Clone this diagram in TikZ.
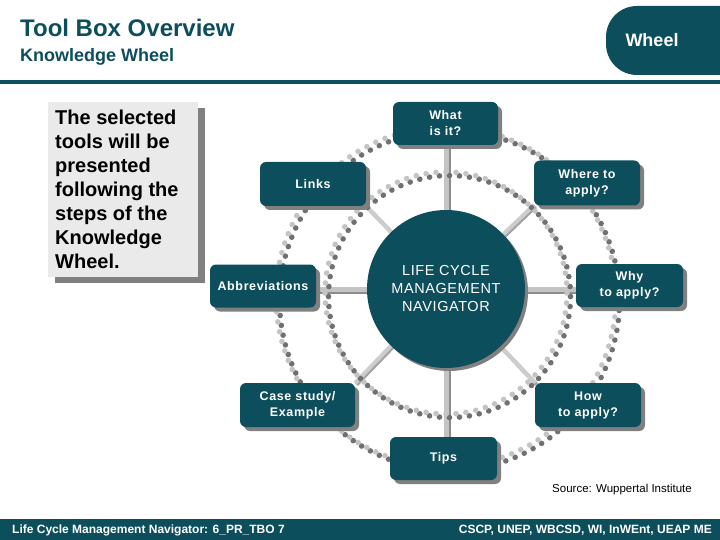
\documentclass[tikz,border=0pt]{standalone}
\usepackage{fontspec}
\setmainfont{Liberation Sans}
\usetikzlibrary{calc,shadows}
\definecolor{tealk}{RGB}{12,78,92}
\definecolor{shgray}{RGB}{128,128,128}
\definecolor{dotlt}{RGB}{196,196,196}
\definecolor{dotdk}{RGB}{112,112,112}
\definecolor{spklt}{RGB}{196,196,196}
\definecolor{spkdk}{RGB}{140,140,140}
\definecolor{boxgray}{RGB}{234,234,234}
\tikzset{
  wbox/.style={fill=tealk, rounded corners=6pt, text=white, align=center,
    inner sep=0pt, font=\bfseries\fontsize{12.5}{16}\selectfont\addfontfeature{LetterSpace=5},
    drop shadow={shadow xshift=4pt, shadow yshift=-4pt, fill=shgray, opacity=1}},
  spokedk/.style={draw=spkdk, line width=5pt},
  spokelt/.style={draw=spklt, line width=5pt},
  diagdk/.style={draw=spkdk!80, line width=4pt},
  diaglt/.style={draw=spklt!85, line width=4pt},
}
\begin{document}
\begin{tikzpicture}[x=1pt,y=-1pt]
\useasboundingbox (0,0) rectangle (720,540);
% header
\node[anchor=base west, text=tealk, font=\bfseries\fontsize{24}{28}\selectfont, inner sep=0pt] (title) at (20,37) {Tool Box Overview};
\node[anchor=base west, text=tealk, font=\bfseries\fontsize{18}{22}\selectfont, inner sep=0pt] (subtitle) at (20,62) {Knowledge Wheel};
\begin{scope}
  \clip (0,0) rectangle (720,540);
  \fill[tealk, rounded corners=31pt] (606,6) rectangle (790,75);
\end{scope}
\node[anchor=base, text=white, font=\bfseries\fontsize{18}{22}\selectfont, inner sep=0pt] (wheeltab) at (652,47) {Wheel};
\fill[tealk] (0,80) rectangle (720,84);
% left text box
\fill[shgray] (55,108) rectangle (205,283);
\fill[boxgray] (48,102) rectangle (198,277);
\node[anchor=north west, align=left, inner sep=0pt, font=\bfseries\fontsize{20}{24}\selectfont] (intro) at (55,109.5)
  {The selected\\tools will be\\presented\\following the\\steps of the\\Knowledge\\Wheel.};
% centre coordinate
\coordinate (c) at (446,289);
\coordinate (ic) at (446,293);
\coordinate (oc) at (446,297);
% box positions
\coordinate (pwhat) at (445.5,123.5);
\coordinate (plinks) at (313,184);
\coordinate (pwhere) at (587,183);
\coordinate (pabbr) at (263,286);
\coordinate (pwhy) at (629.5,285.5);
\coordinate (pcase) at (297.5,405);
\coordinate (phow) at (588,405);
\coordinate (ptips) at (443.5,458.5);
% spokes
\draw[spokedk] ($(c)+(2.5,0)$) -- ($(c |- pwhat)+(2.5,0)$);
\draw[spokelt] (c) -- (c |- pwhat);
\draw[spokedk] ($(c)+(2.5,0)$) -- ($(c |- ptips)+(2.5,0)$);
\draw[spokelt] (c) -- (c |- ptips);
\draw[spokedk] ($(c)+(0,2.5)$) -- ($(c -| pabbr)+(0,2.5)$);
\draw[spokelt] (c) -- (c -| pabbr);
\draw[spokedk] ($(c)+(0,2.5)$) -- ($(c -| pwhy)+(0,2.5)$);
\draw[spokelt] (c) -- (c -| pwhy);
\draw[diagdk] ($(c)+(1.5,1.5)$) -- ($(366,206)+(1.5,1.5)$);
\draw[diaglt] (c) -- (366,206);
\draw[diagdk] ($(c)+(1.5,1.5)$) -- ($(534,205)+(1.5,1.5)$);
\draw[diaglt] (c) -- (534,205);
\draw[diagdk] ($(c)+(1.5,1.5)$) -- ($(355,383)+(1.5,1.5)$);
\draw[diaglt] (c) -- (355,383);
\draw[diagdk] ($(c)+(1.5,1.5)$) -- ($(535,383)+(1.5,1.5)$);
\draw[diaglt] (c) -- (535,383);
% dotted rings
\foreach \k in {0,...,106}{
  \pgfmathsetmacro\ang{\k*3.3644860}
  \fill[dotdk] ($(oc)+(\ang:170)+(3.5,3.5)$) circle (2.8pt);
  \fill[dotlt] ($(oc)+(\ang:170)$) circle (2.8pt);
}
\foreach \k in {0,...,75}{
  \pgfmathsetmacro\ang{\k*4.7368421}
  \fill[dotdk] ($(ic)+(\ang:121)+(3.5,3.5)$) circle (2.8pt);
  \fill[dotlt] ($(ic)+(\ang:121)$) circle (2.8pt);
}
% centre circle
\fill[shgray] ($(c)+(3,3)$) circle (79pt);
\node[circle, fill=tealk, minimum size=158pt, inner sep=0pt, text=white, align=center,
  font=\fontsize{14.5}{18}\selectfont\addfontfeature{LetterSpace=4}] (lcm) at (c) {LIFE CYCLE\\MANAGEMENT\\NAVIGATOR};
% boxes
\node[wbox, minimum width=105pt, minimum height=43pt] (what) at (pwhat) {What\\is it?};
\node[wbox, minimum width=106pt, minimum height=44pt] (links) at (plinks) {Links};
\node[wbox, minimum width=106pt, minimum height=45pt] (where) at (pwhere) {Where to\\apply?};
\node[wbox, minimum width=106pt, minimum height=43pt] (abbr) at (pabbr) {Abbreviations};
\node[wbox, minimum width=107pt, minimum height=43pt] (why) at (pwhy) {Why\\to apply?};
\node[wbox, minimum width=115pt, minimum height=44pt] (case) at (pcase) {Case study/\\Example};
\node[wbox, minimum width=106pt, minimum height=44pt] (how) at (phow) {How\\to apply?};
\node[wbox, minimum width=107pt, minimum height=43pt] (tips) at (ptips) {Tips};
% source
\node[anchor=base east, inner sep=0pt, font=\fontsize{11.5}{14}\selectfont] (source) at (692,492) {Source: Wuppertal Institute};
% footer
\fill[tealk] (0,519) rectangle (720,540);
\node[anchor=base west, inner sep=0pt, text=white, font=\bfseries\fontsize{12}{14}\selectfont] (footl) at (12,533) {Life Cycle Management Navigator: 6\_PR\_TBO 7};
\node[anchor=base east, inner sep=0pt, text=white, font=\bfseries\fontsize{12}{14}\selectfont] (footr) at (712,533) {CSCP, UNEP, WBCSD, WI, InWEnt, UEAP ME};
\end{tikzpicture}
\end{document}
